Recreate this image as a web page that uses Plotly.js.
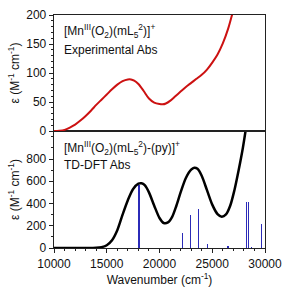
<!DOCTYPE html>
<html><head><meta charset="utf-8">
<script src="https://cdn.plot.ly/plotly-3.0.1.min.js"></script>
<style>html,body{margin:0;padding:0;background:#fff}#c{width:302px;height:291px}</style>
</head><body><div id="c"></div>
<script>
// Experimental absorption (top panel)
const expX = [10000,10500,11000,11500,12000,12500,13000,13500,14000,14500,15000,15500,16000,16500,17000,17300,17600,18000,18500,19000,19500,20000,20300,20600,21000,21500,22000,22500,23000,23500,24000,24500,25000,25500,26000,26500,26900];
const expY = [0,0.5,2,6,11,18,26,35,45,54,63,72,80,86,89,89,87,81,69,56,49,46.5,46,47.5,52,60,68,76,83,90,97,106,118,132,151,176,202];

// TD-DFT simulated absorption (bottom panel)
const dftX = [10000,13000,14000,14500,15000,15500,16000,16500,17000,17500,18000,18300,18600,19000,19500,20000,20400,20800,21200,21600,22000,22500,23000,23300,23600,24000,24500,25000,25500,25900,26300,26700,27100,27500,27900,28200];
const dftY = [0,0,2,8,25,70,160,300,430,530,578,582,565,500,380,270,225,230,280,380,500,630,705,722,712,650,520,390,305,282,302,380,520,700,900,1080];

// TD-DFT transitions (sticks)
const stickX = [18050,22200,22950,23700,24550,26500,28250,28450,28700,29700];
const stickY = [570,135,300,355,40,18,415,415,8,215];

// Tick labels
const xTicks = [10000,15000,20000,25000,30000];
const yTopTicks = [0,50,100,150,200];
const yBotTicks = [0,200,400,600,800];

const F = 'Liberation Sans, Arial, sans-serif';
const data = [
  {x: expX, y: expY, type:'scatter', mode:'lines', line:{color:'#cc1111', width:2, shape:'spline', smoothing:0.8}, xaxis:'x2', yaxis:'y', hoverinfo:'skip'},
  {x: stickX, y: stickY, type:'bar', width: 110, marker:{color:'#2b2bb8', line:{width:0}}, xaxis:'x', yaxis:'y2', hoverinfo:'skip'},
  {x: dftX, y: dftY, type:'scatter', mode:'lines', line:{color:'#000', width:2.5, shape:'spline', smoothing:0.8}, xaxis:'x', yaxis:'y2', hoverinfo:'skip'}
];
const axBase = {showgrid:false, zeroline:false, showline:true, linecolor:'#222', linewidth:1.3, mirror:true,
  tickfont:{family:F, size:12, color:'#111'}, ticks:'outside', ticklen:4, tickcolor:'#222', tickwidth:1};
const layout = {
  width:302, height:291, showlegend:false, bargap:0,
  margin:{l:54, r:37, t:15, b:43},
  paper_bgcolor:'#fff', plot_bgcolor:'#fff',
  font:{family:F, size:12, color:'#111'},
  xaxis: Object.assign({}, axBase, {range:[10000,30000], anchor:'y2', tickmode:'array', tickvals:xTicks, ticktext:xTicks.map(String),
    minor:{dtick:1000, tick0:10000, ticks:'outside', ticklen:2, tickcolor:'#222'},
    title:{text:'Wavenumber (cm<sup>-1</sup>)', font:{family:F, size:12}, standoff:6}}),
  xaxis2: Object.assign({}, axBase, {range:[10000,30000], anchor:'y', showticklabels:false, ticks:''}),
  yaxis: Object.assign({}, axBase, {domain:[0.502,1], range:[0,200], tickmode:'array', tickvals:yTopTicks, ticktext:yTopTicks.map(String), anchor:'x2',
    minor:{dtick:10, tick0:0, ticks:'outside', ticklen:2, tickcolor:'#222'},
    title:{text:'ε (M<sup>-1</sup> cm<sup>-1</sup>)', font:{family:F, size:12}, standoff:4}}),
  yaxis2: Object.assign({}, axBase, {domain:[0,0.502], range:[0,1052], tickmode:'array', tickvals:yBotTicks, ticktext:yBotTicks.map(String), anchor:'x',
    minor:{dtick:100, tick0:0, ticks:'outside', ticklen:2, tickcolor:'#222'},
    title:{text:'ε (M<sup>-1</sup> cm<sup>-1</sup>)', font:{family:F, size:12}, standoff:4}}),
  annotations:[
    {xref:'paper', yref:'paper', x:0.04, y:0.93, xanchor:'left', yanchor:'middle', showarrow:false, align:'left',
     text:'[Mn<sup>III</sup>(O<sub>2</sub>)(mL<sub>5</sub><sup>2</sup>)]<sup>+</sup>', font:{family:F, size:12, color:'#111'}},
    {xref:'paper', yref:'paper', x:0.04, y:0.85, xanchor:'left', yanchor:'middle', showarrow:false,
     text:'Experimental Abs', font:{family:F, size:12, color:'#111'}},
    {xref:'paper', yref:'paper', x:0.04, y:0.43, xanchor:'left', yanchor:'middle', showarrow:false,
     text:'[Mn<sup>III</sup>(O<sub>2</sub>)(mL<sub>5</sub><sup>2</sup>)-(py)]<sup>+</sup>', font:{family:F, size:12, color:'#111'}},
    {xref:'paper', yref:'paper', x:0.04, y:0.355, xanchor:'left', yanchor:'middle', showarrow:false,
     text:'TD-DFT Abs', font:{family:F, size:12, color:'#111'}}
  ]
};
Plotly.newPlot('c', data, layout, {staticPlot:true, displayModeBar:false});
</script></body></html>
